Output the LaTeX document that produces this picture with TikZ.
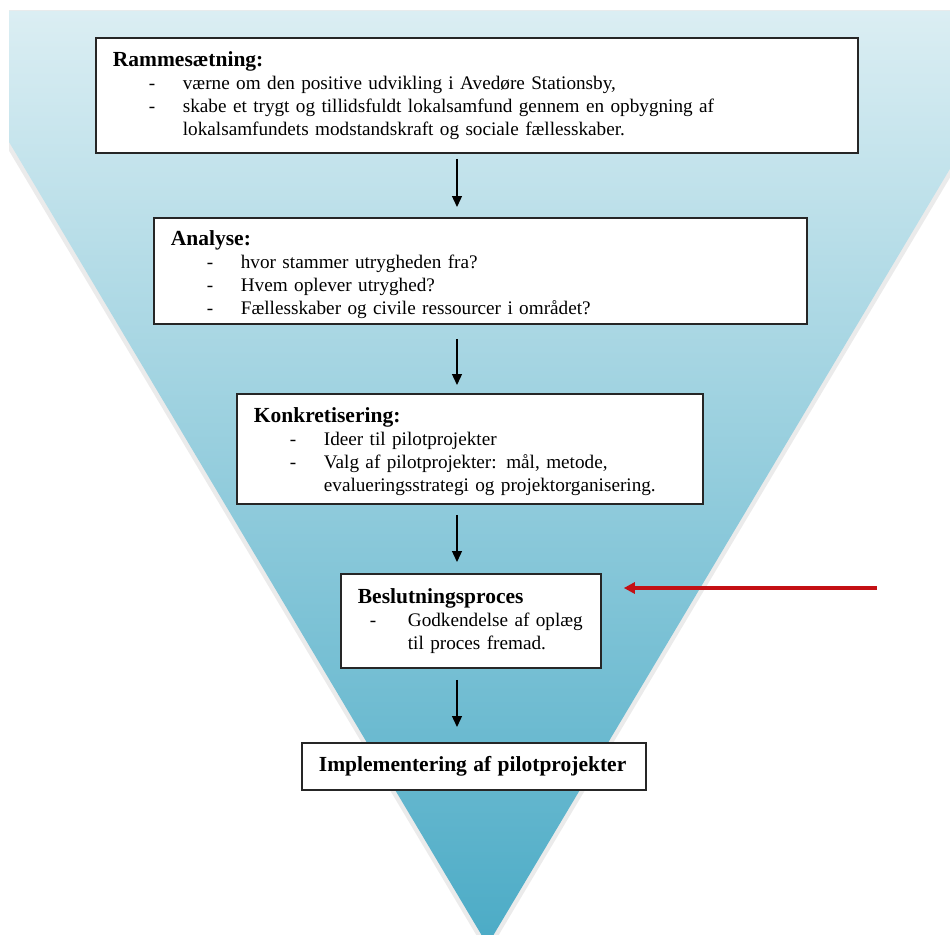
\documentclass[tikz,border=0pt]{standalone}
\usepackage{fontspec}
\setmainfont{Liberation Serif}
\usetikzlibrary{arrows.meta}

\definecolor{tragttop}{RGB}{219,238,243}
\definecolor{tragtbund}{RGB}{75,171,198}
\definecolor{rod}{RGB}{196,16,20}

\newlength{\stregind}\setlength{\stregind}{36pt}
\newlength{\tekstind}\setlength{\tekstind}{70pt}
\newcommand{\overskrift}[2][0pt]{\mbox{\rule{0pt}{#1}\fontsize{21.5}{24}\selectfont\bfseries #2}}
\newcommand{\punkt}[1]{\hspace*{\stregind}\makebox[\dimexpr\tekstind-\stregind\relax][l]{-}\mbox{#1}}
\newcommand{\videre}[1]{\hspace*{\tekstind}\mbox{#1}}

\tikzset{
    boks/.style={draw=black!85, line width=1.8pt, fill=white, anchor=north west,
        align=left, inner xsep=17pt, inner ysep=0pt,
        font=\fontsize{19.2}{23}\selectfont},
    pil/.style={-{Triangle[length=11pt,width=10pt]}, line width=1.3pt},
    rodpil/.style={-{Triangle[length=11pt,width=11pt]}, line width=3.2pt, draw=rod}
}

\begin{document}
\begin{tikzpicture}[x=1pt,y=-1pt]
    \useasboundingbox (0,0) rectangle (950,934);

    \def\tragt{(-69,11) -- (1044,11) -- (487.5,945) -- cycle}

    %funnel with shadow:
    \begin{scope}
        \clip (9,11) rectangle (950,934);
        \draw[line width=9pt, draw=black!8, line join=round] \tragt;
        \shade[top color=tragttop, bottom color=tragtbund] \tragt;
    \end{scope}

    %boxes:
    \node[boks, text width=728pt, minimum height=115pt] (ramme) at (95,37) {
        \overskrift{Rammesætning:}\\
        \punkt{værne om den positive udvikling i Avedøre Stationsby,}\\
        \punkt{skabe et trygt og tillidsfuldt lokalsamfund gennem en opbygning af}\\
        \videre{lokalsamfundets modstandskraft og sociale fællesskaber.}};
    \node[boks, text width=619pt, minimum height=106pt] (analyse) at (153,217) {
        \overskrift[22pt]{Analyse:}\\
        \punkt{hvor stammer utrygheden fra?}\\
        \punkt{Hvem oplever utryghed?}\\
        \punkt{Fællesskaber og civile ressourcer i området?}};
    \node[boks, text width=432pt, minimum height=110pt] (konkret) at (236,393) {
        \overskrift[21pt]{Konkretisering:}\\
        \punkt{Ideer til pilotprojekter}\\
        \punkt{Valg af pilotprojekter: mål, metode,}\\
        \videre{evalueringsstrategi og projektorganisering.}};
    \node[boks, text width=226pt, minimum height=94pt] (beslut) at (340,573) {
        \setlength{\stregind}{12pt}\setlength{\tekstind}{50pt}%
        \overskrift{Beslutningsproces}\\
        \punkt{Godkendelse af oplæg}\\
        \videre{til proces fremad.}};
    \node[boks, text width=310pt, minimum height=47pt] (impl) at (301,742) {
        \overskrift{Implementering af pilotprojekter}};

    %arrows:
    \coordinate (pilx) at (457,0);
    \foreach \fra/\til/\ss/\se in {ramme/analyse/5/10, analyse/konkret/14/8,
        konkret/beslut/10/11, beslut/impl/11/15}
        \draw[pil, shorten <=\ss pt, shorten >=\se pt] (\fra.south -| pilx) -- (\til.north -| pilx);

    \coordinate (rodstart) at (877,588);
    \draw[rodpil, shorten >=22pt] (rodstart) -- (beslut.east |- rodstart);

\end{tikzpicture}
\end{document}
